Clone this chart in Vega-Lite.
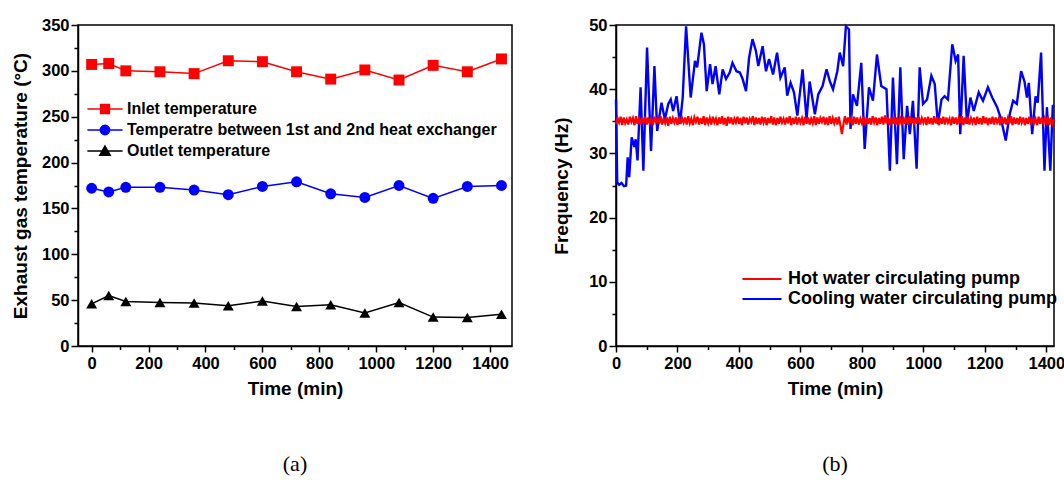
{
  "$schema": "https://vega.github.io/schema/vega-lite/v6.json",
  "padding": {"left": 10, "top": 16, "right": 0, "bottom": 0},
  "spacing": 38,
  "resolve": {"scale": {"color": "independent"}, "legend": {"color": "independent"}},
  "config": {
    "view": {"stroke": "#000000", "strokeWidth": 1.5},
    "axis": {"domainColor": "#000000", "domainWidth": 1.5, "tickColor": "#000000", "tickWidth": 1.5, "labelColor": "#000000", "labelFont": "Liberation Sans", "labelFontSize": 16.5, "labelFontWeight": "bold", "titleFont": "Liberation Sans", "titleFontSize": 19, "titleFontWeight": "bold", "titleColor": "#000000", "grid": false, "labelFlush": false, "labelOverlap": false, "format": "d"},
    "legend": {"labelLimit": 0},
    "title": {"font": "Liberation Serif", "fontSize": 22, "fontWeight": "normal", "color": "#000000"}
  },
  "hconcat": [
    {
      "width": 434,
      "height": 321,
      "title": {"text": "(a)", "orient": "bottom", "anchor": "middle", "frame": "group", "offset": 55},
      "data": {"values": [
        {"time": 0, "series": "Inlet temperature", "temp": 307},
        {"time": 60, "series": "Inlet temperature", "temp": 308},
        {"time": 120, "series": "Inlet temperature", "temp": 300},
        {"time": 240, "series": "Inlet temperature", "temp": 299},
        {"time": 360, "series": "Inlet temperature", "temp": 297},
        {"time": 480, "series": "Inlet temperature", "temp": 311},
        {"time": 600, "series": "Inlet temperature", "temp": 310},
        {"time": 720, "series": "Inlet temperature", "temp": 299},
        {"time": 840, "series": "Inlet temperature", "temp": 291},
        {"time": 960, "series": "Inlet temperature", "temp": 301},
        {"time": 1080, "series": "Inlet temperature", "temp": 290},
        {"time": 1200, "series": "Inlet temperature", "temp": 306},
        {"time": 1320, "series": "Inlet temperature", "temp": 299},
        {"time": 1440, "series": "Inlet temperature", "temp": 313},
        {"time": 0, "series": "Temperatre between 1st and 2nd heat exchanger", "temp": 172},
        {"time": 60, "series": "Temperatre between 1st and 2nd heat exchanger", "temp": 168},
        {"time": 120, "series": "Temperatre between 1st and 2nd heat exchanger", "temp": 173},
        {"time": 240, "series": "Temperatre between 1st and 2nd heat exchanger", "temp": 173},
        {"time": 360, "series": "Temperatre between 1st and 2nd heat exchanger", "temp": 170},
        {"time": 480, "series": "Temperatre between 1st and 2nd heat exchanger", "temp": 165},
        {"time": 600, "series": "Temperatre between 1st and 2nd heat exchanger", "temp": 174},
        {"time": 720, "series": "Temperatre between 1st and 2nd heat exchanger", "temp": 179},
        {"time": 840, "series": "Temperatre between 1st and 2nd heat exchanger", "temp": 166},
        {"time": 960, "series": "Temperatre between 1st and 2nd heat exchanger", "temp": 162},
        {"time": 1080, "series": "Temperatre between 1st and 2nd heat exchanger", "temp": 175},
        {"time": 1200, "series": "Temperatre between 1st and 2nd heat exchanger", "temp": 161},
        {"time": 1320, "series": "Temperatre between 1st and 2nd heat exchanger", "temp": 174},
        {"time": 1440, "series": "Temperatre between 1st and 2nd heat exchanger", "temp": 175},
        {"time": 0, "series": "Outlet temperature", "temp": 46},
        {"time": 60, "series": "Outlet temperature", "temp": 55},
        {"time": 120, "series": "Outlet temperature", "temp": 48.5},
        {"time": 240, "series": "Outlet temperature", "temp": 47.5},
        {"time": 360, "series": "Outlet temperature", "temp": 47},
        {"time": 480, "series": "Outlet temperature", "temp": 44},
        {"time": 600, "series": "Outlet temperature", "temp": 49},
        {"time": 720, "series": "Outlet temperature", "temp": 43},
        {"time": 840, "series": "Outlet temperature", "temp": 45},
        {"time": 960, "series": "Outlet temperature", "temp": 36},
        {"time": 1080, "series": "Outlet temperature", "temp": 47.5},
        {"time": 1200, "series": "Outlet temperature", "temp": 31.5},
        {"time": 1320, "series": "Outlet temperature", "temp": 31},
        {"time": 1440, "series": "Outlet temperature", "temp": 34.5}
      ]},
      "layer": [
        {
          "mark": {"type": "line", "strokeWidth": 1.5},
          "encoding": {
            "x": {"field": "time", "type": "quantitative", "scale": {"domain": [-48, 1477], "nice": false, "zero": false},
              "axis": {"orient": "bottom", "values": [0, 200, 400, 600, 800, 1000, 1200, 1400], "tickSize": 6, "labelPadding": 3, "title": "Time (min)", "titlePadding": 8}},
            "y": {"field": "temp", "type": "quantitative", "scale": {"domain": [0, 350], "nice": false},
              "axis": {"orient": "left", "values": [0, 50, 100, 150, 200, 250, 300, 350], "tickSize": 7, "labelPadding": 2, "title": "Exhaust gas temperature (°C)", "titlePadding": 11}},
            "color": {"field": "series", "type": "nominal",
              "scale": {"domain": ["Inlet temperature", "Temperatre between 1st and 2nd heat exchanger", "Outlet temperature"], "range": ["#ff0000", "#0000ff", "#000000"]},
              "legend": {"orient": "none", "legendX": 19, "legendY": 76, "title": null, "padding": 0, "labelFont": "Liberation Sans", "labelFontSize": 16, "labelFontWeight": "bold", "labelColor": "#000000", "labelLimit": 0, "symbolSize": 121, "symbolStrokeWidth": 1.5, "labelOffset": 14, "rowPadding": 5,
                "encoding": {"symbols": {
                  "shape": {"value": {"expr": "datum.value === 'Inlet temperature' ? 'M-3.2,0H3.2M-0.8,-0.8H0.8V0.8H-0.8Z' : datum.value === 'Outlet temperature' ? 'M-3.2,0H3.2M0,-0.9L0.95,0.75H-0.95Z' : 'M-3.2,0H3.2M0.85,0A0.85,0.85 0 1 1 -0.85,0A0.85,0.85 0 1 1 0.85,0Z'"}},
                  "fill": {"value": {"expr": "datum.value === 'Inlet temperature' ? '#ff0000' : datum.value === 'Outlet temperature' ? '#000000' : '#0000ff'"}},
                  "stroke": {"value": {"expr": "datum.value === 'Inlet temperature' ? '#ff0000' : datum.value === 'Outlet temperature' ? '#000000' : '#0000ff'"}},
                  "strokeWidth": {"value": 1.5},
                  "opacity": {"value": 1},
                  "fillOpacity": {"value": 1}
                }}}}
          }
        },
        {
          "mark": {"type": "point", "filled": true, "opacity": 1, "size": 120},
          "encoding": {
            "x": {"field": "time", "type": "quantitative",
              "axis": {"orient": "bottom", "values": [100, 300, 500, 700, 900, 1100, 1300], "tickSize": 3.5, "labels": false, "domain": false, "title": null}},
            "y": {"field": "temp", "type": "quantitative",
              "axis": {"orient": "left", "values": [25, 75, 125, 175, 225, 275, 325], "tickSize": 4, "labels": false, "domain": false, "title": null}},
            "color": {"field": "series", "type": "nominal"},
            "shape": {"field": "series", "type": "nominal",
              "scale": {"domain": ["Inlet temperature", "Temperatre between 1st and 2nd heat exchanger", "Outlet temperature"], "range": ["square", "circle", "triangle-up"]},
              "legend": null}
          }
        }
      ],
      "resolve": {"axis": {"x": "independent", "y": "independent"}}
    },
    {
      "width": 438,
      "height": 321,
      "title": {"text": "(b)", "orient": "bottom", "anchor": "middle", "frame": "group", "offset": 55},
      "layer": [
        {
          "data": {"values": [
            {"t": 0, "f": 38.4}, {"t": 4, "f": 25.5}, {"t": 10, "f": 25.1}, {"t": 18, "f": 25.4}, {"t": 26, "f": 24.9}, {"t": 33, "f": 25}, {"t": 38, "f": 29.4}, {"t": 43, "f": 26.3}, {"t": 51, "f": 32.5}, {"t": 60, "f": 31}, {"t": 64, "f": 32.2}, {"t": 70, "f": 28.9}, {"t": 80, "f": 40.3}, {"t": 89, "f": 27.3}, {"t": 101, "f": 46.5}, {"t": 114, "f": 30.4}, {"t": 125, "f": 43.6}, {"t": 134, "f": 33.5}, {"t": 148, "f": 37.9}, {"t": 159, "f": 35.3}, {"t": 170, "f": 37.7}, {"t": 178, "f": 38.4}, {"t": 186, "f": 36.6}, {"t": 197, "f": 38.9}, {"t": 208, "f": 34.6}, {"t": 217, "f": 38.7}, {"t": 228, "f": 49.8}, {"t": 243, "f": 38.7}, {"t": 257, "f": 44.4}, {"t": 264, "f": 43.4}, {"t": 278, "f": 48.8}, {"t": 286, "f": 47}, {"t": 295, "f": 39.7}, {"t": 306, "f": 43.9}, {"t": 314, "f": 40.8}, {"t": 324, "f": 43.6}, {"t": 336, "f": 39.2}, {"t": 347, "f": 43.1}, {"t": 358, "f": 41.6}, {"t": 370, "f": 42.6}, {"t": 379, "f": 44.1}, {"t": 392, "f": 42.8}, {"t": 403, "f": 42.6}, {"t": 412, "f": 41.6}, {"t": 423, "f": 39.7}, {"t": 433, "f": 44.9}, {"t": 444, "f": 47.8}, {"t": 455, "f": 46}, {"t": 463, "f": 43.6}, {"t": 477, "f": 46.7}, {"t": 488, "f": 42.8}, {"t": 498, "f": 44.7}, {"t": 511, "f": 42.3}, {"t": 524, "f": 45.7}, {"t": 535, "f": 41.8}, {"t": 549, "f": 43.4}, {"t": 557, "f": 39}, {"t": 568, "f": 41}, {"t": 579, "f": 39.5}, {"t": 590, "f": 35.9}, {"t": 607, "f": 43.1}, {"t": 620, "f": 35.3}, {"t": 630, "f": 41.2}, {"t": 647, "f": 36.1}, {"t": 658, "f": 39.2}, {"t": 672, "f": 40.5}, {"t": 685, "f": 43.1}, {"t": 696, "f": 41.2}, {"t": 706, "f": 40}, {"t": 720, "f": 42.8}, {"t": 728, "f": 45.7}, {"t": 739, "f": 43.6}, {"t": 748, "f": 49.8}, {"t": 758, "f": 49.3}, {"t": 763, "f": 33.8}, {"t": 771, "f": 39.2}, {"t": 784, "f": 37.4}, {"t": 798, "f": 44.1}, {"t": 809, "f": 30.7}, {"t": 823, "f": 40.3}, {"t": 836, "f": 38.2}, {"t": 849, "f": 45.4}, {"t": 863, "f": 40.5}, {"t": 880, "f": 40}, {"t": 891, "f": 27.3}, {"t": 901, "f": 41.8}, {"t": 914, "f": 28.3}, {"t": 925, "f": 43.4}, {"t": 936, "f": 29.1}, {"t": 947, "f": 37.4}, {"t": 956, "f": 33}, {"t": 966, "f": 38.2}, {"t": 978, "f": 27.6}, {"t": 988, "f": 43.4}, {"t": 999, "f": 37.7}, {"t": 1012, "f": 38.4}, {"t": 1026, "f": 42.1}, {"t": 1037, "f": 40.8}, {"t": 1047, "f": 34.6}, {"t": 1059, "f": 38.4}, {"t": 1069, "f": 38.9}, {"t": 1080, "f": 38.4}, {"t": 1094, "f": 47}, {"t": 1105, "f": 44.4}, {"t": 1113, "f": 45.4}, {"t": 1120, "f": 33}, {"t": 1131, "f": 45.2}, {"t": 1142, "f": 34.6}, {"t": 1153, "f": 38.7}, {"t": 1164, "f": 36.6}, {"t": 1180, "f": 39.5}, {"t": 1194, "f": 38.2}, {"t": 1210, "f": 40.3}, {"t": 1224, "f": 38.7}, {"t": 1240, "f": 37.2}, {"t": 1253, "f": 35.3}, {"t": 1268, "f": 32}, {"t": 1281, "f": 36.1}, {"t": 1292, "f": 38.2}, {"t": 1304, "f": 37.7}, {"t": 1318, "f": 42.8}, {"t": 1329, "f": 41.2}, {"t": 1337, "f": 38.7}, {"t": 1343, "f": 41}, {"t": 1354, "f": 33}, {"t": 1365, "f": 38.9}, {"t": 1372, "f": 37.9}, {"t": 1383, "f": 45.7}, {"t": 1394, "f": 27.3}, {"t": 1402, "f": 37.2}, {"t": 1413, "f": 27.3}, {"t": 1421, "f": 37.4}, {"t": 1425, "f": 37.5}
          ]},
          "mark": {"type": "line", "strokeWidth": 2.4},
          "encoding": {
            "x": {"field": "t", "type": "quantitative", "scale": {"domain": [0, 1425], "nice": false, "zero": false},
              "axis": {"orient": "bottom", "values": [0, 200, 400, 600, 800, 1000, 1200, 1400], "tickSize": 6, "labelPadding": 3, "title": "Time (min)", "titlePadding": 8}},
            "y": {"field": "f", "type": "quantitative", "scale": {"domain": [0, 50], "nice": false},
              "axis": {"orient": "left", "values": [0, 10, 20, 30, 40, 50], "tickSize": 7, "labelPadding": 2, "title": "Frequency (Hz)", "titlePadding": 17}},
            "color": {"datum": "Cooling water circulating pump", "type": "nominal",
              "scale": {"domain": ["Hot water circulating pump", "Cooling water circulating pump"], "range": ["#ff0000", "#0000ff"]},
              "legend": {"orient": "none", "legendX": 137, "legendY": 245, "title": null, "padding": 0, "labelFont": "Liberation Sans", "labelFontSize": 18, "labelFontWeight": "bold", "labelColor": "#000000", "labelLimit": 0, "symbolType": "M-3.55,0H3.55", "symbolSize": 121, "symbolStrokeWidth": 2, "labelOffset": 17, "rowPadding": 2}}
          }
        },
        {
          "data": {"values": [
            {"t": 0, "f": 34.6}, {"t": 5, "f": 35.5}, {"t": 10, "f": 34.8}, {"t": 15, "f": 35.7}, {"t": 20, "f": 34.4}, {"t": 25, "f": 35.6}, {"t": 30, "f": 34.7}, {"t": 35, "f": 35.3}, {"t": 40, "f": 34.5}, {"t": 45, "f": 35.7}, {"t": 50, "f": 34.9}, {"t": 55, "f": 35.5}, {"t": 60, "f": 34.4}, {"t": 65, "f": 35.8}, {"t": 70, "f": 34.6}, {"t": 75, "f": 35.4}, {"t": 80, "f": 34.5}, {"t": 85, "f": 35.6}, {"t": 90, "f": 34.8}, {"t": 95, "f": 35.7},
            {"t": 100, "f": 34.5}, {"t": 105, "f": 35.6}, {"t": 110, "f": 34.7}, {"t": 115, "f": 35.4}, {"t": 120, "f": 34.4}, {"t": 125, "f": 35.7}, {"t": 130, "f": 34.9}, {"t": 135, "f": 35.5}, {"t": 140, "f": 34.6}, {"t": 145, "f": 35.8}, {"t": 150, "f": 34.5}, {"t": 155, "f": 35.4}, {"t": 160, "f": 34.7}, {"t": 165, "f": 35.6}, {"t": 170, "f": 34.3}, {"t": 175, "f": 35.7}, {"t": 180, "f": 34.6}, {"t": 185, "f": 35.5}, {"t": 190, "f": 34.8}, {"t": 195, "f": 35.6},
            {"t": 200, "f": 34.4}, {"t": 205, "f": 35.7}, {"t": 210, "f": 34.6}, {"t": 215, "f": 35.5}, {"t": 220, "f": 34.8}, {"t": 225, "f": 35.6}, {"t": 230, "f": 34.5}, {"t": 235, "f": 35.8}, {"t": 240, "f": 34.7}, {"t": 245, "f": 35.4}, {"t": 250, "f": 34.4}, {"t": 255, "f": 35.6}, {"t": 260, "f": 34.9}, {"t": 265, "f": 35.7}, {"t": 270, "f": 34.5}, {"t": 275, "f": 35.5}, {"t": 280, "f": 34.6}, {"t": 285, "f": 35.8}, {"t": 290, "f": 34.4}, {"t": 295, "f": 35.6},
            {"t": 300, "f": 34.7}, {"t": 305, "f": 35.5}, {"t": 310, "f": 34.5}, {"t": 315, "f": 35.7}, {"t": 320, "f": 34.8}, {"t": 325, "f": 35.4}, {"t": 330, "f": 34.4}, {"t": 335, "f": 35.6}, {"t": 340, "f": 34.6}, {"t": 345, "f": 35.8}, {"t": 350, "f": 34.5}, {"t": 355, "f": 35.5}, {"t": 360, "f": 34.3}, {"t": 365, "f": 35.7}, {"t": 370, "f": 34.7}, {"t": 375, "f": 35.6}, {"t": 380, "f": 34.5}, {"t": 385, "f": 35.4}, {"t": 390, "f": 34.8}, {"t": 395, "f": 35.7},
            {"t": 400, "f": 34.6}, {"t": 405, "f": 35.5}, {"t": 410, "f": 34.4}, {"t": 415, "f": 35.7}, {"t": 420, "f": 34.7}, {"t": 425, "f": 35.6}, {"t": 430, "f": 34.5}, {"t": 435, "f": 35.4}, {"t": 440, "f": 34.9}, {"t": 445, "f": 35.8}, {"t": 450, "f": 34.4}, {"t": 455, "f": 35.6}, {"t": 460, "f": 34.6}, {"t": 465, "f": 35.5}, {"t": 470, "f": 34.5}, {"t": 475, "f": 35.7}, {"t": 480, "f": 34.8}, {"t": 485, "f": 35.6}, {"t": 490, "f": 34.4}, {"t": 495, "f": 35.5},
            {"t": 500, "f": 34.7}, {"t": 505, "f": 35.8}, {"t": 510, "f": 34.5}, {"t": 515, "f": 35.6}, {"t": 520, "f": 34.4}, {"t": 525, "f": 35.5}, {"t": 530, "f": 34.6}, {"t": 535, "f": 35.7}, {"t": 540, "f": 34.8}, {"t": 545, "f": 35.4}, {"t": 550, "f": 34.5}, {"t": 555, "f": 35.6}, {"t": 560, "f": 34.7}, {"t": 565, "f": 35.8}, {"t": 570, "f": 34.4}, {"t": 575, "f": 35.5}, {"t": 580, "f": 34.6}, {"t": 585, "f": 35.7}, {"t": 590, "f": 34.5}, {"t": 595, "f": 35.6},
            {"t": 600, "f": 34.8}, {"t": 605, "f": 35.5}, {"t": 610, "f": 34.4}, {"t": 615, "f": 35.7}, {"t": 620, "f": 34.6}, {"t": 625, "f": 35.6}, {"t": 630, "f": 34.5}, {"t": 635, "f": 35.4}, {"t": 640, "f": 34.7}, {"t": 645, "f": 35.8}, {"t": 650, "f": 34.4}, {"t": 655, "f": 35.6}, {"t": 660, "f": 34.6}, {"t": 665, "f": 35.5}, {"t": 670, "f": 34.9}, {"t": 675, "f": 35.7}, {"t": 680, "f": 34.5}, {"t": 685, "f": 35.6}, {"t": 690, "f": 34.4}, {"t": 695, "f": 35.8},
            {"t": 700, "f": 34.6}, {"t": 705, "f": 35.5}, {"t": 710, "f": 34.7}, {"t": 715, "f": 35.6}, {"t": 720, "f": 34.5}, {"t": 725, "f": 35.7}, {"t": 730, "f": 34.4}, {"t": 735, "f": 33.0}, {"t": 740, "f": 34.6}, {"t": 745, "f": 35.8}, {"t": 750, "f": 34.5}, {"t": 755, "f": 35.6}, {"t": 760, "f": 34.8}, {"t": 765, "f": 35.5}, {"t": 770, "f": 34.4}, {"t": 775, "f": 35.7}, {"t": 780, "f": 34.6}, {"t": 785, "f": 35.6}, {"t": 790, "f": 34.5}, {"t": 795, "f": 35.4},
            {"t": 800, "f": 34.7}, {"t": 805, "f": 35.7}, {"t": 810, "f": 34.4}, {"t": 815, "f": 35.6}, {"t": 820, "f": 34.6}, {"t": 825, "f": 35.5}, {"t": 830, "f": 34.5}, {"t": 835, "f": 35.8}, {"t": 840, "f": 34.8}, {"t": 845, "f": 35.6}, {"t": 850, "f": 34.4}, {"t": 855, "f": 35.5}, {"t": 860, "f": 34.6}, {"t": 865, "f": 35.7}, {"t": 870, "f": 34.5}, {"t": 875, "f": 35.9}, {"t": 880, "f": 34.7}, {"t": 885, "f": 35.6}, {"t": 890, "f": 34.4}, {"t": 895, "f": 35.5},
            {"t": 900, "f": 34.6}, {"t": 905, "f": 35.7}, {"t": 910, "f": 34.5}, {"t": 915, "f": 35.6}, {"t": 920, "f": 34.8}, {"t": 925, "f": 35.4}, {"t": 930, "f": 34.4}, {"t": 935, "f": 35.7}, {"t": 940, "f": 34.6}, {"t": 945, "f": 35.6}, {"t": 950, "f": 34.5}, {"t": 955, "f": 35.8}, {"t": 960, "f": 34.7}, {"t": 965, "f": 35.5}, {"t": 970, "f": 34.4}, {"t": 975, "f": 35.6}, {"t": 980, "f": 34.6}, {"t": 985, "f": 35.7}, {"t": 990, "f": 34.5}, {"t": 995, "f": 35.5},
            {"t": 1000, "f": 34.8}, {"t": 1005, "f": 35.6}, {"t": 1010, "f": 34.4}, {"t": 1015, "f": 35.7}, {"t": 1020, "f": 34.6}, {"t": 1025, "f": 35.5}, {"t": 1030, "f": 34.5}, {"t": 1035, "f": 35.8}, {"t": 1040, "f": 34.7}, {"t": 1045, "f": 35.6}, {"t": 1050, "f": 34.4}, {"t": 1055, "f": 35.5}, {"t": 1060, "f": 34.6}, {"t": 1065, "f": 35.7}, {"t": 1070, "f": 34.5}, {"t": 1075, "f": 35.6}, {"t": 1080, "f": 34.8}, {"t": 1085, "f": 35.4}, {"t": 1090, "f": 34.4}, {"t": 1095, "f": 35.7},
            {"t": 1100, "f": 34.6}, {"t": 1105, "f": 35.6}, {"t": 1110, "f": 34.5}, {"t": 1115, "f": 35.5}, {"t": 1120, "f": 34.7}, {"t": 1125, "f": 35.8}, {"t": 1130, "f": 34.4}, {"t": 1135, "f": 35.6}, {"t": 1140, "f": 34.6}, {"t": 1145, "f": 35.7}, {"t": 1150, "f": 34.5}, {"t": 1155, "f": 35.5}, {"t": 1160, "f": 34.8}, {"t": 1165, "f": 35.6}, {"t": 1170, "f": 34.4}, {"t": 1175, "f": 35.7}, {"t": 1180, "f": 34.6}, {"t": 1185, "f": 35.5}, {"t": 1190, "f": 34.5}, {"t": 1195, "f": 35.8},
            {"t": 1200, "f": 34.7}, {"t": 1205, "f": 35.6}, {"t": 1210, "f": 34.4}, {"t": 1215, "f": 35.5}, {"t": 1220, "f": 34.6}, {"t": 1225, "f": 35.7}, {"t": 1230, "f": 34.5}, {"t": 1235, "f": 35.6}, {"t": 1240, "f": 34.8}, {"t": 1245, "f": 35.4}, {"t": 1250, "f": 34.4}, {"t": 1255, "f": 35.7}, {"t": 1260, "f": 34.6}, {"t": 1265, "f": 35.6}, {"t": 1270, "f": 34.5}, {"t": 1275, "f": 35.5}, {"t": 1280, "f": 34.7}, {"t": 1285, "f": 35.8}, {"t": 1290, "f": 34.4}, {"t": 1295, "f": 35.6},
            {"t": 1300, "f": 34.6}, {"t": 1305, "f": 35.5}, {"t": 1310, "f": 34.5}, {"t": 1315, "f": 35.7}, {"t": 1320, "f": 34.8}, {"t": 1325, "f": 35.6}, {"t": 1330, "f": 34.4}, {"t": 1335, "f": 35.5}, {"t": 1340, "f": 34.6}, {"t": 1345, "f": 35.7}, {"t": 1350, "f": 34.5}, {"t": 1355, "f": 35.6}, {"t": 1360, "f": 34.7}, {"t": 1365, "f": 35.4}, {"t": 1370, "f": 34.4}, {"t": 1375, "f": 35.7}, {"t": 1380, "f": 34.6}, {"t": 1385, "f": 35.6}, {"t": 1390, "f": 34.5}, {"t": 1395, "f": 35.5},
            {"t": 1400, "f": 34.8}, {"t": 1405, "f": 35.7}, {"t": 1410, "f": 34.4}, {"t": 1415, "f": 35.6}, {"t": 1420, "f": 34.6}, {"t": 1425, "f": 35.3}
          ]},
          "mark": {"type": "line", "strokeWidth": 2.2},
          "encoding": {
            "x": {"field": "t", "type": "quantitative",
              "axis": {"orient": "bottom", "values": [100, 300, 500, 700, 900, 1100, 1300], "tickSize": 3.5, "labels": false, "domain": false, "title": null}},
            "y": {"field": "f", "type": "quantitative",
              "axis": {"orient": "left", "values": [5, 15, 25, 35, 45], "tickSize": 4, "labels": false, "domain": false, "title": null}},
            "color": {"datum": "Hot water circulating pump", "type": "nominal"}
          }
        }
      ],
      "resolve": {"axis": {"x": "independent", "y": "independent"}}
    }
  ]
}
